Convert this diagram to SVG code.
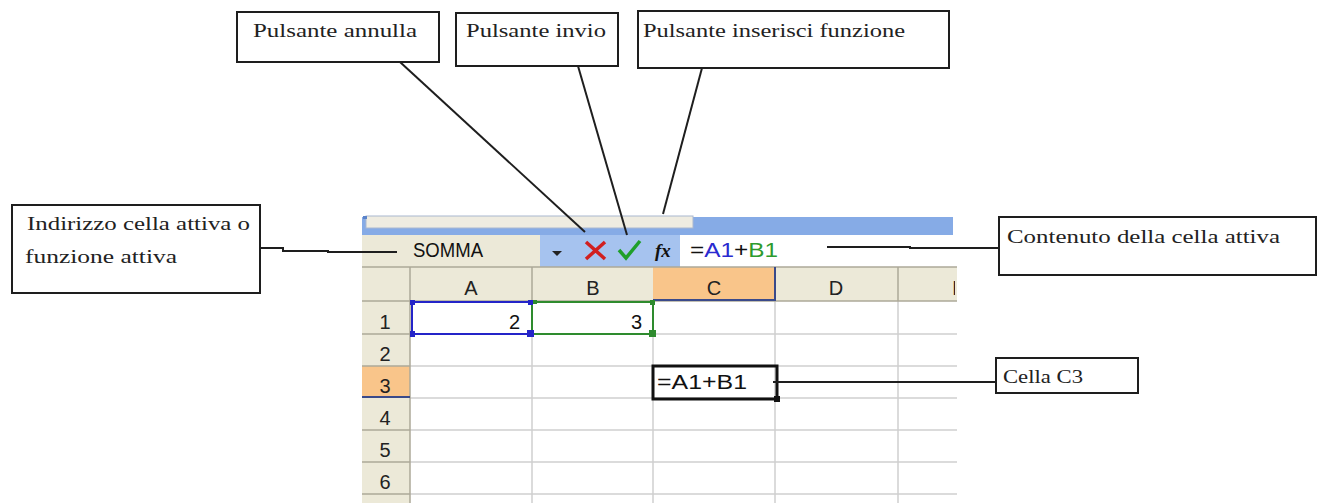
<svg xmlns="http://www.w3.org/2000/svg" width="1321" height="503" viewBox="0 0 1321 503">
<defs>
<style>
.box{fill:#fff;stroke:#1e1e1e;stroke-width:2}
.lbl{font-family:"Liberation Serif","Times New Roman",serif;font-size:19px;fill:#222}
.conn{fill:none;stroke:#1e1e1e;stroke-width:2}
.hl{stroke:#aca899;stroke-width:1.5}
.grid{stroke:#cfcfcf;stroke-width:1.5}
.navy{stroke:#3a4a8a;stroke-width:2}
.ss{font-family:"Liberation Sans",Arial,sans-serif;font-size:20px;fill:#111}
.hd{font-family:"Liberation Sans",Arial,sans-serif;font-size:20px;fill:#222;text-anchor:middle}
</style>
<clipPath id="clipSheet"><rect x="360" y="200" width="597" height="303"/></clipPath>
<clipPath id="clipE"><rect x="900" y="270" width="55" height="30"/></clipPath>
</defs>
<rect width="1321" height="503" fill="#fff"/>

<g id="spreadsheet" clip-path="url(#clipSheet)">
  <!-- top strip -->
  <rect x="362" y="217" width="591" height="18" fill="#86abe6"/>
  <rect x="366" y="216" width="327" height="12" fill="#efece1" stroke="#a9b8d0" stroke-width="1"/>
  <rect x="363" y="216" width="4" height="3" fill="#5b83c9"/>
  <!-- formula row -->
  <rect x="362" y="235" width="178" height="32" fill="#ece9d8"/>
  <rect x="540" y="235" width="140" height="32" fill="#a6c3ef"/>
  <rect x="680" y="235" width="277" height="32" fill="#ffffff"/>
  <!-- header row and row header column -->
  <rect x="362" y="267" width="595" height="34" fill="#ece9d8"/>
  <rect x="653" y="267" width="122" height="34" fill="#f9c58a"/>
  <rect x="362" y="301" width="48" height="202" fill="#ece9d8"/>
  <rect x="362" y="366" width="48" height="32" fill="#f9c58a"/>
  <!-- grid -->
  <g class="grid">
    <line x1="410" y1="334" x2="957" y2="334"/>
    <line x1="410" y1="366" x2="957" y2="366"/>
    <line x1="410" y1="398" x2="957" y2="398"/>
    <line x1="410" y1="430" x2="957" y2="430"/>
    <line x1="410" y1="462" x2="957" y2="462"/>
    <line x1="410" y1="494" x2="957" y2="494"/>
    <line x1="532" y1="301" x2="532" y2="503"/>
    <line x1="653" y1="301" x2="653" y2="503"/>
    <line x1="775" y1="301" x2="775" y2="503"/>
    <line x1="898" y1="301" x2="898" y2="503"/>
  </g>
  <g class="hl">
    <line x1="362" y1="267" x2="957" y2="267"/>
    <line x1="362" y1="301" x2="957" y2="301"/>
    <line x1="410" y1="267" x2="410" y2="503"/>
    <line x1="532" y1="267" x2="532" y2="301"/>
    <line x1="898" y1="267" x2="898" y2="301"/>
    <line x1="362" y1="334" x2="410" y2="334"/>
    <line x1="362" y1="430" x2="410" y2="430"/>
    <line x1="362" y1="462" x2="410" y2="462"/>
    <line x1="362" y1="494" x2="410" y2="494"/>
  </g>
  <g class="navy">
    <line x1="653" y1="300" x2="776" y2="300"/>
    <line x1="775" y1="267" x2="775" y2="301"/>
    <line x1="362" y1="397" x2="410" y2="397"/>
  </g>
  <line x1="362" y1="366" x2="410" y2="366" stroke="#aca899" stroke-width="1.5"/>
  <!-- column headers -->
  <text class="hd" x="471" y="295">A</text>
  <text class="hd" x="593" y="295">B</text>
  <text class="hd" x="714" y="295">C</text>
  <text class="hd" x="836" y="295">D</text>
  <text class="hd" x="959" y="295" clip-path="url(#clipE)">E</text>
  <!-- row headers -->
  <text class="hd" x="385" y="329">1</text>
  <text class="hd" x="385" y="361">2</text>
  <text class="hd" x="385" y="393">3</text>
  <text class="hd" x="385" y="425">4</text>
  <text class="hd" x="385" y="457">5</text>
  <text class="hd" x="385" y="489">6</text>
  <text class="hd" x="385" y="519">7</text>
  <!-- cell values -->
  <text class="ss" x="520" y="329" text-anchor="end">2</text>
  <text class="ss" x="642" y="329" text-anchor="end">3</text>
  <text class="ss" x="657" y="389" textLength="90" lengthAdjust="spacingAndGlyphs">=A1+B1</text>
  <!-- selections -->
  <rect x="412" y="302" width="120" height="32" fill="none" stroke="#2424c8" stroke-width="2"/>
  <rect x="532" y="302" width="121" height="32" fill="none" stroke="#2e8b2e" stroke-width="2"/>
  <rect x="410" y="300" width="5" height="5" fill="#2424c8"/>
  <rect x="410" y="331" width="5" height="6" fill="#2424c8"/>
  <rect x="528" y="300" width="5" height="5" fill="#2424c8"/>
  <rect x="533" y="300" width="4" height="4" fill="#2e8b2e"/>
  <rect x="527" y="330" width="7" height="7" fill="#2424c8"/>
  <rect x="650" y="300" width="5" height="5" fill="#2e8b2e"/>
  <rect x="649" y="330" width="7" height="7" fill="#2e8b2e"/>
  <rect x="653" y="366" width="124" height="33" fill="none" stroke="#111" stroke-width="3"/>
  <rect x="774" y="396" width="6" height="6" fill="#111"/>
  <!-- formula bar contents -->
  <text class="ss" x="413" y="257" textLength="70" lengthAdjust="spacingAndGlyphs" font-size="18">SOMMA</text>
  <polygon points="552,251 562,251 557,256" fill="#222"/>
  <path d="M586,242 L605,259 M605,242 L586,259" stroke="#d11f1f" stroke-width="3.5" fill="none"/>
  <path d="M619,250 L626,258 L640,241" stroke="#1f9f2a" stroke-width="3.5" fill="none"/>
  <text x="655" y="257" font-family="Liberation Serif,serif" font-style="italic" font-weight="bold" font-size="19" fill="#111">fx</text>
  <text class="ss" x="690" y="257" textLength="88" lengthAdjust="spacingAndGlyphs">=<tspan fill="#2a2ad0">A1</tspan>+<tspan fill="#2e9b2e">B1</tspan></text>
</g>

<g id="connectors">
  <line class="conn" x1="400" y1="62" x2="585" y2="232"/>
  <line class="conn" x1="578" y1="66" x2="627" y2="235"/>
  <line class="conn" x1="702" y1="68" x2="663" y2="214"/>
  <polyline class="conn" points="260,248 283,248 283,251 328,251 328,252 397,252"/>
  <polyline class="conn" points="827,247 910,247 910,248 999,248"/>
  <line class="conn" x1="773" y1="382" x2="996" y2="382"/>
</g>

<g id="node-annulla">
  <rect class="box" x="237" y="12" width="202" height="50"/>
  <text class="lbl" x="253" y="37" textLength="164" lengthAdjust="spacingAndGlyphs">Pulsante annulla</text>
</g>
<g id="node-invio">
  <rect class="box" x="456" y="13" width="162" height="53"/>
  <text class="lbl" x="466" y="37" textLength="140" lengthAdjust="spacingAndGlyphs">Pulsante invio</text>
</g>
<g id="node-inserisci">
  <rect class="box" x="638" y="11" width="311" height="57"/>
  <text class="lbl" x="643" y="37" textLength="262" lengthAdjust="spacingAndGlyphs">Pulsante inserisci funzione</text>
</g>
<g id="node-indirizzo">
  <rect class="box" x="12" y="205" width="248" height="88"/>
  <text class="lbl" x="27" y="230" textLength="223" lengthAdjust="spacingAndGlyphs">Indirizzo cella attiva o</text>
  <text class="lbl" x="25" y="263" textLength="152" lengthAdjust="spacingAndGlyphs">funzione attiva</text>
</g>
<g id="node-contenuto">
  <rect class="box" x="999" y="217" width="317" height="58"/>
  <text class="lbl" x="1007" y="243" textLength="273" lengthAdjust="spacingAndGlyphs">Contenuto della cella attiva</text>
</g>
<g id="node-cellaC3">
  <rect class="box" x="996" y="358" width="142" height="35"/>
  <text class="lbl" x="1003" y="383" textLength="80" lengthAdjust="spacingAndGlyphs">Cella C3</text>
</g>
</svg>
